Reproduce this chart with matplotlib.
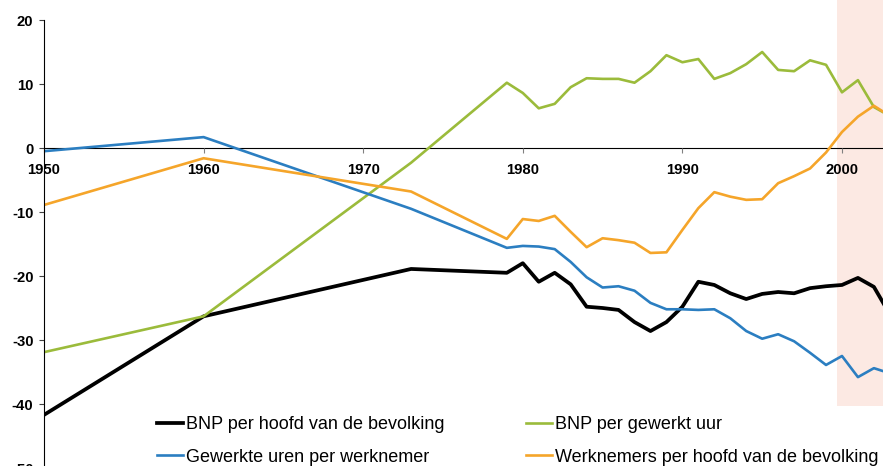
import matplotlib.pyplot as plt
from matplotlib.patches import Rectangle

plt.rcParams['font.family'] = ['Liberation Sans', 'DejaVu Sans']
plt.rcParams['axes.unicode_minus'] = False

jaren = [1950, 1960, 1973, 1979, 1980, 1981, 1982, 1983, 1984, 1985, 1986, 1987,
         1988, 1989, 1990, 1991, 1992, 1993, 1994, 1995, 1996, 1997, 1998, 1999,
         2000, 2001, 2002, 2003]

bnp_hoofd = [-41.7, -26.3, -18.9, -19.5, -18.0, -20.9, -19.5, -21.3, -24.8, -25.0,
             -25.3, -27.2, -28.6, -27.2, -24.8, -20.9, -21.4, -22.7, -23.6, -22.8,
             -22.5, -22.7, -21.9, -21.6, -21.4, -20.3, -21.7, -26.0]

bnp_uur = [-31.9, -26.3, -2.3, 10.2, 8.6, 6.2, 6.9, 9.5, 10.9, 10.8, 10.8, 10.2,
           12.0, 14.5, 13.4, 13.9, 10.8, 11.7, 13.1, 15.0, 12.2, 12.0, 13.7, 13.0,
           8.7, 10.6, 6.4, 5.0]

uren_werknemer = [-0.5, 1.7, -9.5, -15.6, -15.3, -15.4, -15.8, -17.8, -20.2, -21.8,
                  -21.6, -22.3, -24.2, -25.2, -25.2, -25.3, -25.2, -26.6, -28.6, -29.8,
                  -29.1, -30.2, -32.0, -33.9, -32.5, -35.8, -34.4, -35.2]

werknemers_hoofd = [-8.9, -1.6, -6.8, -14.2, -11.1, -11.4, -10.6, -13.1, -15.5, -14.1,
                    -14.4, -14.8, -16.4, -16.3, -12.8, -9.4, -6.9, -7.6, -8.1, -8.0,
                    -5.5, -4.4, -3.2, -0.7, 2.5, 4.9, 6.6, 5.0]

fig = plt.figure(figsize=(8.83, 4.66), dpi=100)
ax = fig.add_axes([44 / 883, -2 / 466, 1 - 44 / 883, 448 / 466])

# zona sombreada (prognose)
ax.add_patch(Rectangle((1999.7, -40.3), 5, 63.5, facecolor='#fce9e3',
                       edgecolor='none', zorder=0, clip_on=False))

l1, = ax.plot(jaren, bnp_hoofd, color='black', lw=2.7, label='BNP per hoofd van de bevolking')
l2, = ax.plot(jaren, bnp_uur, color='#9bbb3b', lw=1.9, label='BNP per gewerkt uur')
l3, = ax.plot(jaren, uren_werknemer, color='#2b7ec1', lw=1.9, label='Gewerkte uren per werknemer')
l4, = ax.plot(jaren, werknemers_hoofd, color='#f5a52a', lw=1.9,
              label='Werknemers per hoofd van de bevolking')

ax.set_xlim(1950, 2002.57)
ax.set_ylim(-50, 20)
ax.set_xticks([1950, 1960, 1970, 1980, 1990, 2000])
ax.set_yticks([20, 10, 0, -10, -20, -30, -40, -50])

ax.spines['top'].set_visible(False)
ax.spines['right'].set_visible(False)
ax.spines['bottom'].set_position(('data', 0))
ax.spines['bottom'].set_zorder(1)

ax.tick_params(axis='x', direction='out', length=3.6, color='#808080', pad=7)
ax.tick_params(axis='y', direction='out', length=3.6, color='#404040', pad=4)
for t in ax.get_xticklabels() + ax.get_yticklabels():
    t.set_fontsize(10.7)
    t.set_fontweight('bold')

# leyenda en dos columnas
ax.legend([l1, l3, l2, l4], [l1.get_label(), l3.get_label(), l2.get_label(), l4.get_label()],
          ncol=2, frameon=False, fontsize=13, loc='upper left',
          bbox_to_anchor=(150 / 883, 1 - 409 / 466), bbox_transform=fig.transFigure,
          handlelength=1.45, handletextpad=0.15, columnspacing=4.5, labelspacing=0.86,
          borderaxespad=0)

fig.savefig('out.png')
